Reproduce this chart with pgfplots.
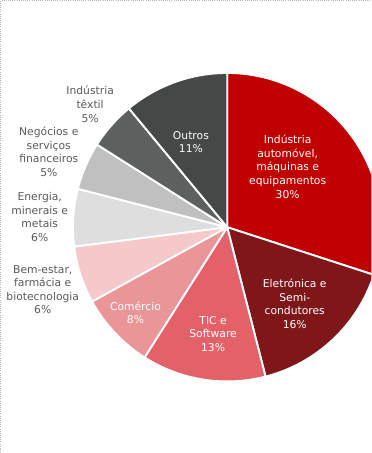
\documentclass[border=0pt]{standalone}
\usepackage{pgfplots}
\pgfplotsset{compat=1.18}
\usepackage{fontspec}
\setmainfont{DejaVu Sans}
\definecolor{cA}{HTML}{C00000}
\definecolor{cB}{HTML}{7F161A}
\definecolor{cC}{HTML}{E3626A}
\definecolor{cD}{HTML}{EA9598}
\definecolor{cE}{HTML}{F5C8CA}
\definecolor{cF}{HTML}{DEDEDE}
\definecolor{cG}{HTML}{BFC0BF}
\definecolor{cH}{HTML}{5E605F}
\definecolor{cI}{HTML}{464847}
\definecolor{lblgray}{HTML}{595959}
\begin{document}
\begin{tikzpicture}
\begin{axis}[x=0.75pt,y=0.75pt,xmin=0,xmax=369,ymin=0,ymax=453,
  hide axis,clip=true]
\pgfplotsextra{
  \def\cx{226}\def\cy{224}\def\R{114.75pt}
  \gdef\ang{90}
  \foreach \v/\c in {30/cA,16/cB,13/cC,8/cD,6/cE,6/cF,5/cG,5/cH,11/cI}{
    \pgfmathsetmacro\endang{\ang-3.6*\v}
    \fill[\c,draw=white,line width=1.4pt,line join=round]
      (axis cs:\cx,\cy) -- ([shift={(\ang:\R)}]axis cs:\cx,\cy)
      arc[start angle=\ang,end angle=\endang,radius=\R] -- cycle;
    \xdef\ang{\endang}
  }
  \draw[gray!60,densely dotted,line width=0.6pt] (axis cs:1,0) -- (axis cs:1,449) -- (axis cs:369,449);
}
\begin{scope}[every node/.style={align=center,font=\fontsize{8}{10.1}\selectfont}]
\node[text=white] at (axis cs:286,284) {Indústria\\automóvel,\\máquinas e\\equipamentos\\30\%};
\node[text=white] at (axis cs:190,308.5) {Outros\\11\%};
\node[text=white] at (axis cs:293,148) {Eletrónica e\\Semi-\\condutores\\16\%};
\node[text=white] at (axis cs:212,118) {TIC e\\Software\\13\%};
\node[text=white] at (axis cs:135,139) {Comércio\\8\%};
\node[text=lblgray] at (axis cs:43,162) {Bem-estar,\\farmácia e\\biotecnologia\\6\%};
\node[text=lblgray] at (axis cs:40,234) {Energia,\\minerais e\\metais\\6\%};
\node[text=lblgray] at (axis cs:49,299) {Negócios e\\serviços\\financeiros\\5\%};
\node[text=lblgray] at (axis cs:90,346) {Indústria\\têxtil\\5\%};
\end{scope}
\end{axis}
\end{tikzpicture}
\end{document}
